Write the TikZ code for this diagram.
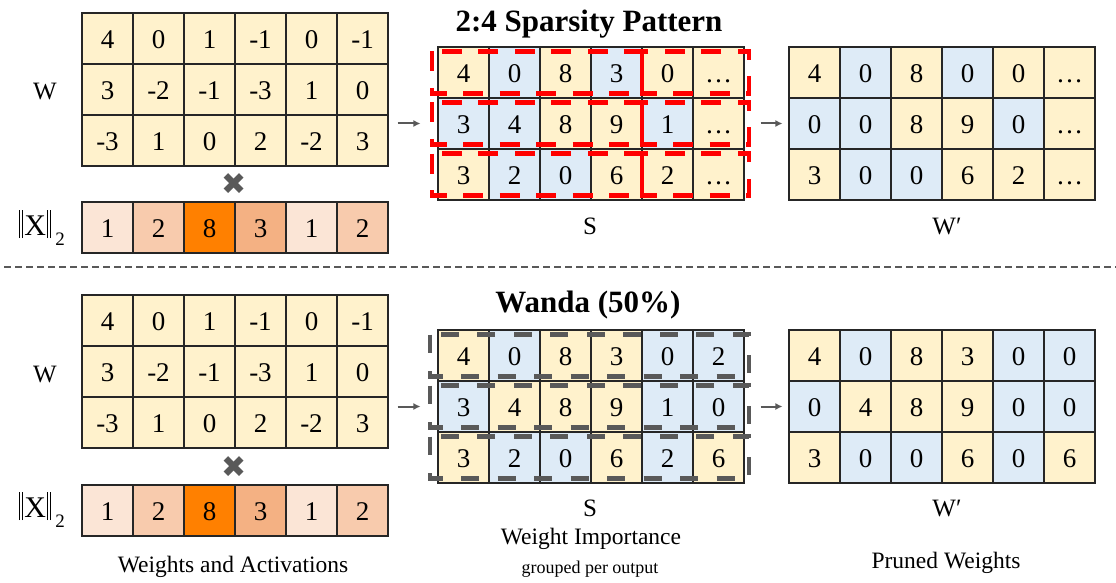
\documentclass[tikz,border=0pt]{standalone}
\usepackage{fontspec}
\setmainfont{Liberation Serif}
\newfontfamily\symfont{DejaVu Sans}
\usetikzlibrary{arrows.meta}
\definecolor{cy}{HTML}{FFF2CC}
\definecolor{cb}{HTML}{DEEBF7}
\definecolor{oa}{HTML}{FBE5D6}
\definecolor{ob}{HTML}{F8CBAD}
\definecolor{oc}{HTML}{F4B183}
\definecolor{od}{HTML}{FF8000}
\definecolor{dg}{HTML}{595959}
\definecolor{bd}{HTML}{262626}
\newcommand\mrow[4]{\foreach \cc/\vv [count=\k] in {#4} {\node[cell, fill=\cc] (#1-\k) at ({#2+25.5+51*(\k-1)}, #3) {\vv};}}
\newcommand\nbar{\rule[-3pt]{1.1pt}{28pt}}
\newcommand\normX{\nbar\kern2pt\nbar\kern1pt{\fontsize{30}{30}\selectfont X}\kern1pt\nbar\kern2pt\nbar\raisebox{-10pt}{\fontsize{19}{19}\selectfont\kern4pt 2}}
\begin{document}
\begin{tikzpicture}[x=1pt,y=-1pt,
  cell/.style={draw=bd, line width=1.1pt, minimum width=51pt, minimum height=51pt, inner sep=0pt,
    text height=19.6pt, text depth=0pt, font=\fontsize{27}{27}\selectfont},
  lbl/.style={inner sep=0pt, anchor=base, font=\fontsize{25}{25}\selectfont},
  captxt/.style={inner sep=0pt, anchor=base, font=\fontsize{23.5}{23.5}\selectfont},
  ttl/.style={inner sep=0pt, anchor=base, font=\bfseries\fontsize{31}{31}\selectfont},
  timesx/.style={inner sep=0pt, text=dg, font=\symfont\fontsize{30}{30}\selectfont},
  arr/.style={draw=dg, line width=2pt, -{Latex[length=7pt,width=7pt]}},
  redbox/.style={draw=red, line width=4.8pt, dash pattern=on 20pt off 16.5pt},
  graybox/.style={draw=dg, line width=4.2pt, dash pattern=on 18pt off 18.5pt},
  sepline/.style={draw=dg, line width=2.6pt, dash pattern=on 7pt off 4pt}]
\useasboundingbox (0,0) rectangle (1116,583);
% ---------------- top half ----------------
\node[ttl] (t1) at (589,32) {2:4 Sparsity Pattern};
\mrow{TW-1}{82}{38.5}{cy/4,cy/0,cy/1,cy/-1,cy/0,cy/-1}
\mrow{TW-2}{82}{89.5}{cy/3,cy/-2,cy/-1,cy/-3,cy/1,cy/0}
\mrow{TW-3}{82}{140.5}{cy/-3,cy/1,cy/0,cy/2,cy/-2,cy/3}
\mrow{TX}{82}{227.5}{oa/1,ob/2,od/8,oc/3,oa/1,ob/2}
\node[lbl] (TWl) at (45,100) {W};
\node[inner sep=0pt, anchor=base west, font=\fontsize{25}{25}\selectfont] (TXl) at (19,235) {\normX};
\node[timesx] (Tx) at (234,184) {✖};
\mrow{TS-1}{438}{72.5}{cy/4,cb/0,cy/8,cb/3,cy/0,cy/…}
\mrow{TS-2}{438}{123.5}{cb/3,cb/4,cy/8,cy/9,cb/1,cy/…}
\mrow{TS-3}{438}{174.5}{cy/3,cb/2,cb/0,cy/6,cy/2,cy/…}
\foreach \yc in {72.5,123.5,174.5} {
  \draw[redbox] (432,\yc-21) rectangle (642,\yc+21);
  \draw[redbox] (642,\yc-21) rectangle (749,\yc+21);
}
\node[lbl] (TSl) at (590,234) {S};
\mrow{TP-1}{789}{72.5}{cy/4,cb/0,cy/8,cb/0,cy/0,cy/…}
\mrow{TP-2}{789}{123.5}{cb/0,cb/0,cy/8,cy/9,cb/0,cy/…}
\mrow{TP-3}{789}{174.5}{cy/3,cb/0,cb/0,cy/6,cy/2,cy/…}
\node[lbl] (TPl) at (947,234) {W′};
\draw[arr, shorten <=9pt, shorten >=17pt] (TW-2-6.east |- TS-2-1.west) -- (TS-2-1.west);
\draw[arr, shorten <=16pt, shorten >=6pt] (TS-2-6.east) -- (TP-2-1.west);
% ---------------- separator ----------------
\coordinate (sepL) at (4,267);
\coordinate (sepR) at (1116,267);
\draw[sepline] (sepL) -- (sepR);
% ---------------- bottom half ----------------
\node[ttl] (t2) at (588,312) {Wanda (50\%)};
\mrow{BW-1}{82}{320.5}{cy/4,cy/0,cy/1,cy/-1,cy/0,cy/-1}
\mrow{BW-2}{82}{371.5}{cy/3,cy/-2,cy/-1,cy/-3,cy/1,cy/0}
\mrow{BW-3}{82}{422.5}{cy/-3,cy/1,cy/0,cy/2,cy/-2,cy/3}
\mrow{BX}{82}{510.5}{oa/1,ob/2,od/8,oc/3,oa/1,ob/2}
\node[lbl] (BWl) at (45,382) {W};
\node[inner sep=0pt, anchor=base west, font=\fontsize{25}{25}\selectfont] (BXl) at (19,517) {\normX};
\node[timesx] (Bx) at (234,467) {✖};
\node[captxt] (BWa) at (233,572) {Weights and Activations};
\mrow{BS-1}{438}{355.5}{cy/4,cb/0,cy/8,cy/3,cb/0,cb/2}
\mrow{BS-2}{438}{406.5}{cb/3,cy/4,cy/8,cy/9,cb/1,cb/0}
\mrow{BS-3}{438}{457.5}{cy/3,cb/2,cb/0,cy/6,cb/2,cy/6}
\foreach \yc in {355.5,406.5,457.5} {
  \draw[graybox] (430,\yc-21) rectangle (749,\yc+21);
}
\node[lbl] (BSl) at (590,516) {S};
\node[captxt] (BSi) at (591,544) {Weight Importance};
\node[inner sep=0pt, anchor=base, font=\fontsize{18}{18}\selectfont] (BSg) at (590,573) {grouped per output};
\mrow{BP-1}{789}{355.5}{cy/4,cb/0,cy/8,cy/3,cb/0,cb/0}
\mrow{BP-2}{789}{406.5}{cb/0,cy/4,cy/8,cy/9,cb/0,cb/0}
\mrow{BP-3}{789}{457.5}{cy/3,cb/0,cb/0,cy/6,cb/0,cy/6}
\node[lbl] (BPl) at (947,516) {W′};
\node[captxt] (BPw) at (946,568) {Pruned Weights};
\draw[arr, shorten <=9pt, shorten >=17pt] (BW-2-6.east |- BS-2-1.west) -- (BS-2-1.west);
\draw[arr, shorten <=16pt, shorten >=6pt] (BS-2-6.east) -- (BP-2-1.west);
\end{tikzpicture}
\end{document}
